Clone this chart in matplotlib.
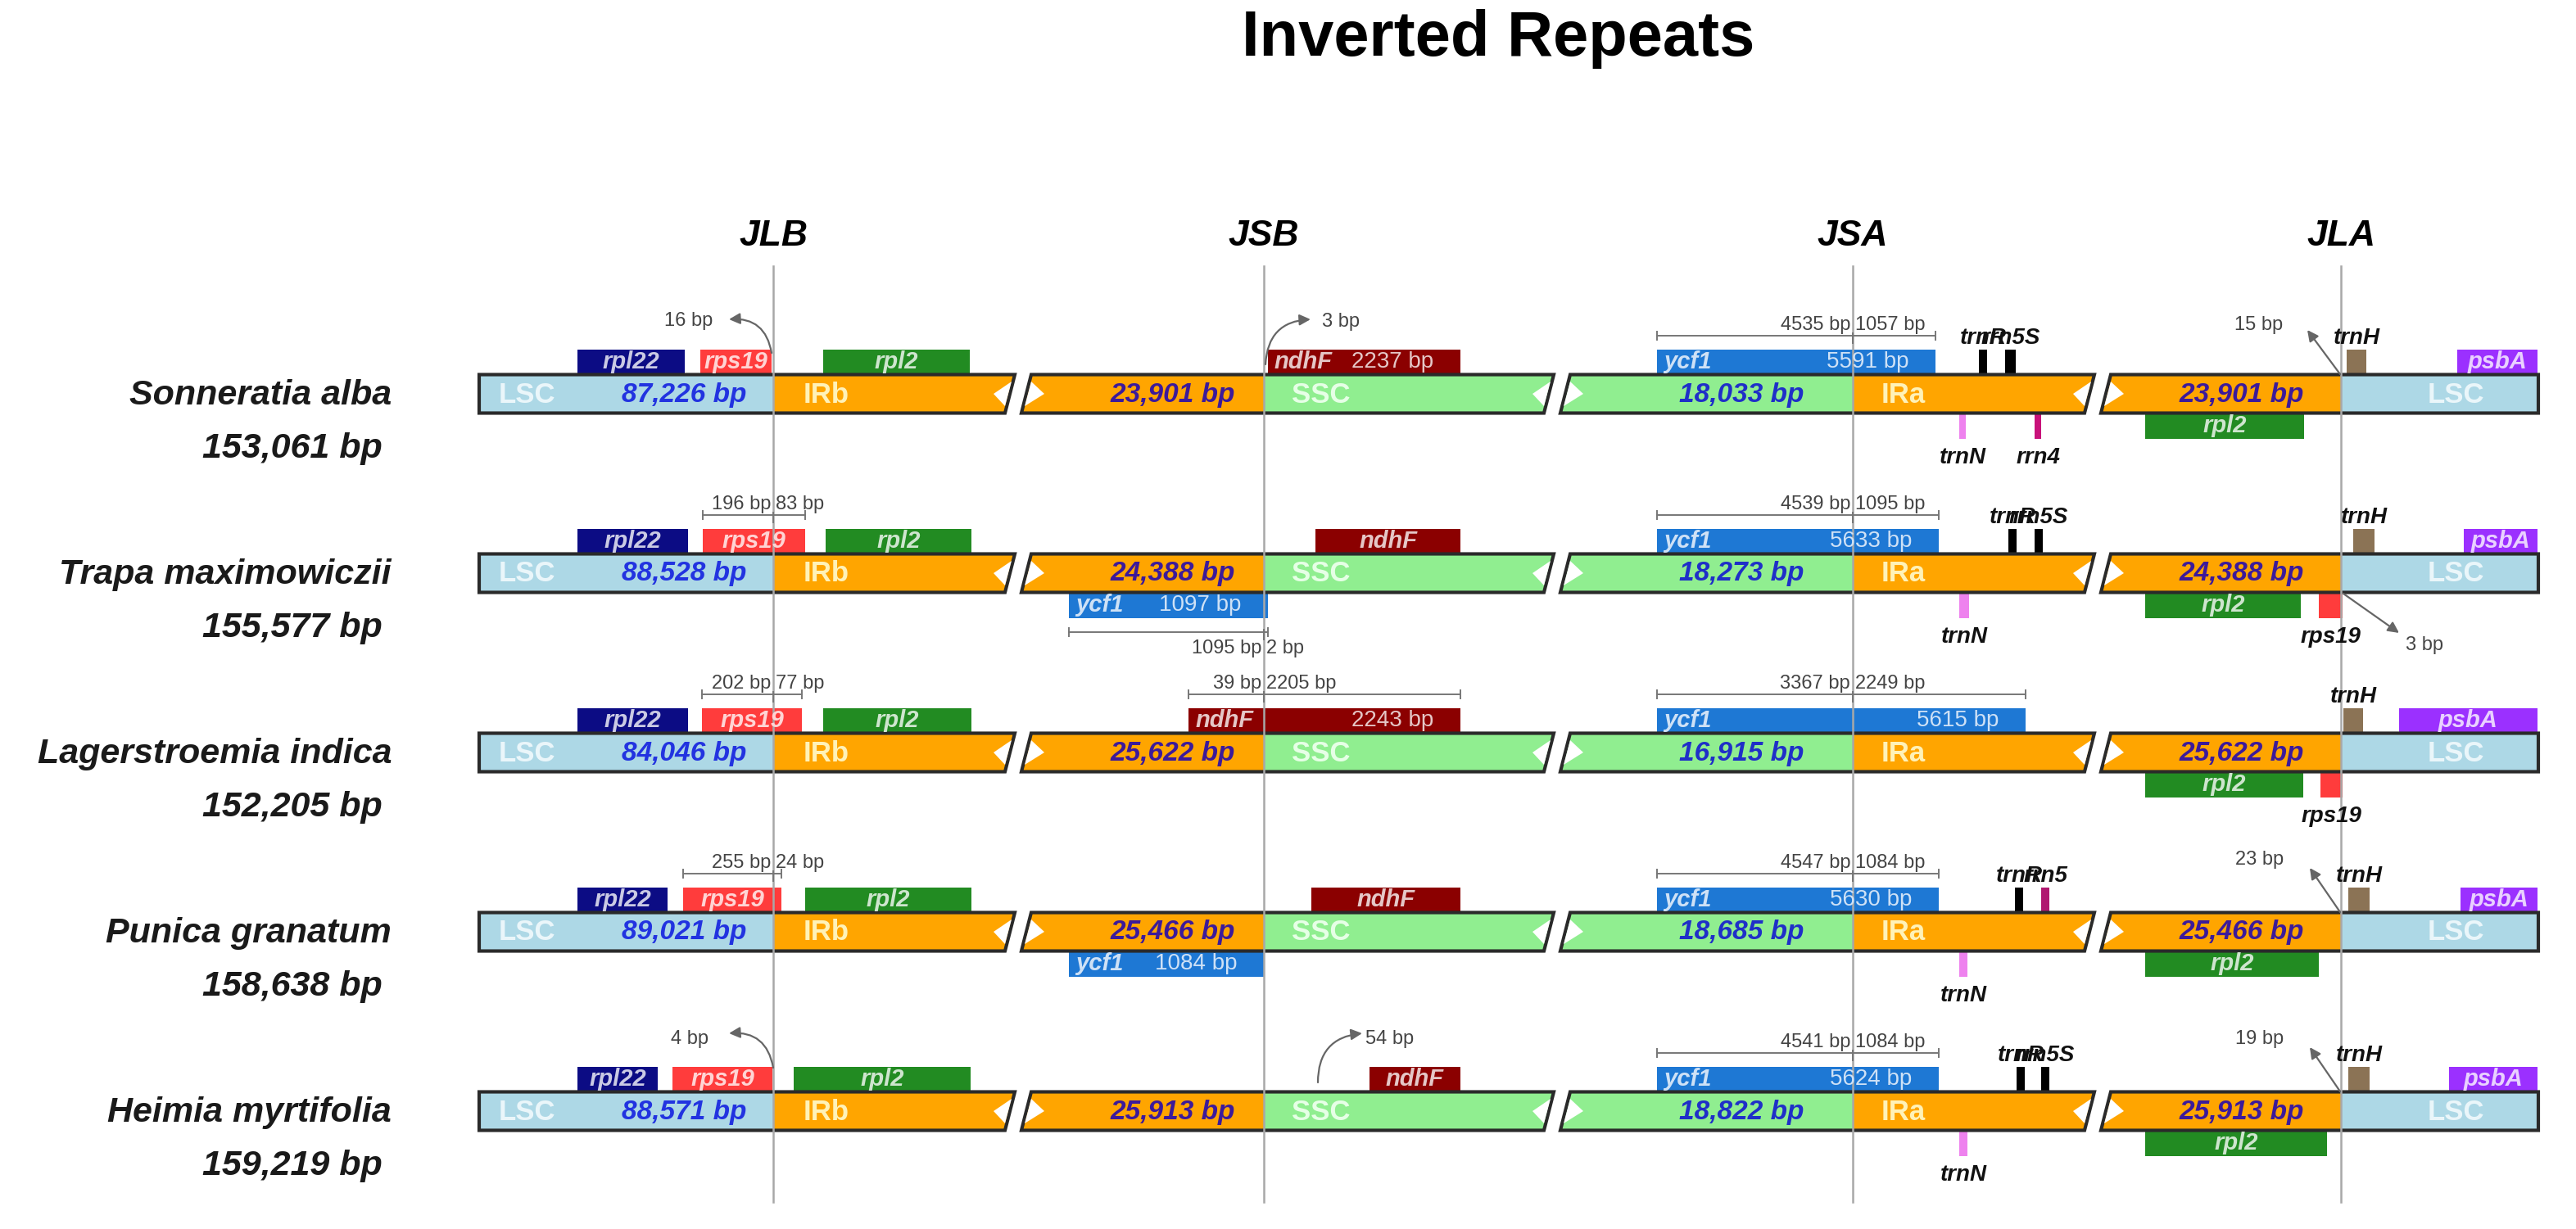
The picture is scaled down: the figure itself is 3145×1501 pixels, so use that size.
import matplotlib
matplotlib.use('Agg')
import matplotlib.pyplot as plt
from matplotlib.patches import Polygon, Rectangle, FancyArrowPatch
from matplotlib.colors import to_rgb

plt.rcParams['font.family'] = ['Liberation Sans', 'DejaVu Sans']

# ---- data ----
title = 'Inverted Repeats'
species = ['Sonneratia alba', 'Trapa maximowiczii', 'Lagerstroemia indica',
           'Punica granatum', 'Heimia myrtifolia']
genome_bp = ['153,061 bp', '155,577 bp', '152,205 bp', '158,638 bp', '159,219 bp']
lsc_bp = ['87,226 bp', '88,528 bp', '84,046 bp', '89,021 bp', '88,571 bp']
ir_bp = ['23,901 bp', '24,388 bp', '25,622 bp', '25,466 bp', '25,913 bp']
ssc_bp = ['18,033 bp', '18,273 bp', '16,915 bp', '18,685 bp', '18,822 bp']
junctions = ['JLB', 'JSB', 'JSA', 'JLA']

# genes per genome: name, junction, start, end (drawn offset from the junction), side, size text
genes = [
    [('rpl22', 'JLB', -239, -108, 'up', ''), ('rps19', 'JLB', -89, -2, 'up', ''),
     ('rpl2', 'JLB', 61, 240, 'up', ''), ('ndhF', 'JSB', 5, 240, 'up', '2237 bp'),
     ('ycf1', 'JSA', -239, 101, 'up', '5591 bp'), ('trnR', 'JSA', 154, 164, 'up', ''),
     ('rrn5S', 'JSA', 186, 199, 'up', ''), ('trnN', 'JSA', 130, 138, 'down', ''),
     ('rrn4', 'JSA', 222, 230, 'down', ''), ('rpl2', 'JLA', -239, -45, 'down', ''),
     ('trnH', 'JLA', 7, 31, 'up', ''), ('psbA', 'JLA', 142, 240, 'up', '')],
    [('rpl22', 'JLB', -239, -104, 'up', ''), ('rps19', 'JLB', -86, 39, 'up', ''),
     ('rpl2', 'JLB', 64, 242, 'up', ''), ('ndhF', 'JSB', 63, 240, 'up', ''),
     ('ycf1', 'JSB', -238, 5, 'down', '1097 bp'), ('ycf1', 'JSA', -239, 105, 'up', '5633 bp'),
     ('trnR', 'JSA', 190, 200, 'up', ''), ('rrn5S', 'JSA', 222, 232, 'up', ''),
     ('trnN', 'JSA', 130, 142, 'down', ''), ('rpl2', 'JLA', -239, -49, 'down', ''),
     ('rps19', 'JLA', -27, 2, 'down', ''), ('trnH', 'JLA', 15, 41, 'up', ''),
     ('psbA', 'JLA', 150, 240, 'up', '')],
    [('rpl22', 'JLB', -239, -104, 'up', ''), ('rps19', 'JLB', -87, 35, 'up', ''),
     ('rpl2', 'JLB', 61, 242, 'up', ''), ('ndhF', 'JSB', -92, 240, 'up', '2243 bp'),
     ('ycf1', 'JSA', -239, 211, 'up', '5615 bp'), ('rpl2', 'JLA', -239, -46, 'down', ''),
     ('rps19', 'JLA', -25, 2, 'down', ''), ('trnH', 'JLA', 3, 27, 'up', ''),
     ('psbA', 'JLA', 71, 240, 'up', '')],
    [('rpl22', 'JLB', -239, -129, 'up', ''), ('rps19', 'JLB', -110, 10, 'up', ''),
     ('rpl2', 'JLB', 39, 242, 'up', ''), ('ndhF', 'JSB', 58, 240, 'up', ''),
     ('ycf1', 'JSB', -238, 0, 'down', '1084 bp'), ('ycf1', 'JSA', -239, 105, 'up', '5630 bp'),
     ('trnR', 'JSA', 198, 208, 'up', ''), ('rrn5', 'JSA', 230, 240, 'up', ''),
     ('trnN', 'JSA', 130, 140, 'down', ''), ('rpl2', 'JLA', -239, -27, 'down', ''),
     ('trnH', 'JLA', 9, 35, 'up', ''), ('psbA', 'JLA', 146, 240, 'up', '')],
    [('rpl22', 'JLB', -239, -141, 'up', ''), ('rps19', 'JLB', -123, -1, 'up', ''),
     ('rpl2', 'JLB', 25, 241, 'up', ''), ('ndhF', 'JSB', 129, 240, 'up', ''),
     ('ycf1', 'JSA', -239, 105, 'up', '5624 bp'), ('trnR', 'JSA', 200, 210, 'up', ''),
     ('rrn5S', 'JSA', 230, 240, 'up', ''), ('trnN', 'JSA', 130, 140, 'down', ''),
     ('rpl2', 'JLA', -239, -17, 'down', ''), ('trnH', 'JLA', 9, 35, 'up', ''),
     ('psbA', 'JLA', 132, 240, 'up', '')],
]

# distance rulers: genome, junction, start, end, side, left text, right text
rulers = [
    (0, 'JSA', -239, 101, 'up', '4535 bp', '1057 bp'),
    (1, 'JLB', -86, 39, 'up', '196 bp', '83 bp'),
    (1, 'JSB', -238, 5, 'down', '1095 bp', '2 bp'),
    (1, 'JSA', -239, 105, 'up', '4539 bp', '1095 bp'),
    (2, 'JLB', -87, 35, 'up', '202 bp', '77 bp'),
    (2, 'JSB', -92, 240, 'up', '39 bp', '2205 bp'),
    (2, 'JSA', -239, 211, 'up', '3367 bp', '2249 bp'),
    (3, 'JLB', -110, 10, 'up', '255 bp', '24 bp'),
    (3, 'JSA', -239, 105, 'up', '4547 bp', '1084 bp'),
    (4, 'JSA', -239, 105, 'up', '4541 bp', '1084 bp'),
]

# gap arrows: genome, junction, tail, head, bend, text, text offset from head
gap_arrows = [
    (0, 'JLB', (-2, -50), (-54, -91), 0.45, '16 bp', (-20, 2), 'right'),
    (0, 'JSB', (2, -36), (57, -91), -0.45, '3 bp', (14, 3), 'left'),
    (0, 'JLA', (-1, -24), (-41, -78), 0.0, '15 bp', (-30, -6), 'right'),
    (1, 'JLA', (3, 25), (71, 73), 0.0, '3 bp', (8, 15), 'left'),
    (3, 'JLA', (-1, -24), (-38, -78), 0.0, '23 bp', (-32, -10), 'right'),
    (4, 'JLB', (0, -53), (-54, -95), 0.45, '4 bp', (-25, 7), 'right'),
    (4, 'JSB', (66, -35), (120, -95), -0.45, '54 bp', (4, 7), 'left'),
    (4, 'JLA', (-1, -24), (-38, -78), 0.0, '19 bp', (-32, -10), 'right'),
]

gene_colors = {'rpl22': '#0c0c84', 'rps19': '#ff3c3c', 'rpl2': '#228b22',
               'ndhF': '#8b0000', 'ycf1': '#1e78d4', 'trnR': '#000000',
               'rrn5S': '#000000', 'rrn5': '#b01870', 'rrn4': '#c8127a',
               'trnN': '#ee82ee', 'trnH': '#8b7355', 'psbA': '#9b30ff'}
region_colors = {'LSC': '#add8e6', 'IR': '#ffa500', 'SSC': '#90ee90'}
region_text = {'LSC': '#eaf6fa', 'IRb': '#fff2b8', 'IRa': '#fff2b8', 'SSC': '#e6ffe6'}

# ---- layout ----
W, H = 3145, 1501
jx = dict(zip(junctions, [944, 1543, 2262, 2858]))
row_y = [481 + 219 * i for i in range(len(species))]
bar_h, gene_h = 47, 31
edges = [585, 1243, 1901, 2561, 3099]
seg_regions = [[(None, 'JLB', 'LSC'), ('JLB', None, 'IR')],
               [(None, 'JSB', 'IR'), ('JSB', None, 'SSC')],
               [(None, 'JSA', 'SSC'), ('JSA', None, 'IR')],
               [(None, 'JLA', 'IR'), ('JLA', None, 'LSC')]]


def tint(c, f=0.78):
    r, g, b = to_rgb(c)
    return (r + (1 - r) * f, g + (1 - g) * f, b + (1 - b) * f)


fig = plt.figure(figsize=(W / 100, H / 100), dpi=100)
ax = fig.add_axes([0, 0, 1, 1])
ax.set_xlim(0, W)
ax.set_ylim(H, 0)
ax.axis('off')

ax.text(1829, 48, title, ha='center', va='center', fontsize=56, fontweight='bold')
for j in junctions:
    ax.text(jx[j], 288, j, ha='center', va='center', fontsize=32,
            fontweight='bold', fontstyle='italic')
    ax.plot([jx[j], jx[j]], [325, 1468], color='#a8a8a8', lw=1.8, zorder=5)

for r, y in enumerate(row_y):
    top, bot = y - bar_h / 2, y + bar_h / 2
    ax.text(478, y + 2, species[r], ha='right', va='center', fontsize=31,
            fontweight='bold', fontstyle='italic', color='#1a1a1a')
    ax.text(467, y + 67, genome_bp[r], ha='right', va='center', fontsize=31,
            fontweight='bold', fontstyle='italic', color='#1a1a1a')

    for i in range(4):
        L, R = edges[i], edges[i + 1]
        lt, lb = (L, L) if i == 0 else (L + 16, L + 4)
        rt, rb = (R, R) if i == 3 else (R - 4, R - 16)
        shape = Polygon([(lt, top), (rt, top), (rb, bot), (lb, bot)], closed=True,
                        fill=False, edgecolor='#2a2a2a', lw=3, zorder=3)
        ax.add_patch(shape)
        for a, b, reg in seg_regions[i]:
            xa = L - 20 if a is None else jx[a]
            xb = R + 20 if b is None else jx[b]
            rect = Rectangle((xa, top), xb - xa, bar_h, color=region_colors[reg], lw=0, zorder=2)
            ax.add_patch(rect)
            rect.set_clip_path(shape)
        if i > 0:
            ax.add_patch(Polygon([(L + 16, y - 15), (L + 8, y + 15), (L + 32, y)],
                                 color='white', lw=0, zorder=4))
        if i < 3:
            ax.add_patch(Polygon([(R - 8, y - 15), (R - 16, y + 15), (R - 30, y)],
                                 color='white', lw=0, zorder=4))

    rk = dict(fontsize=25, fontweight='bold', va='center', zorder=6)
    ax.text(edges[0] + 24, y + 1, 'LSC', ha='left', color=region_text['LSC'], **rk)
    ax.text(jx['JLB'] + 37, y + 1, 'IRb', ha='left', color=region_text['IRb'], **rk)
    ax.text(jx['JSB'] + 34, y + 1, 'SSC', ha='left', color=region_text['SSC'], **rk)
    ax.text(jx['JSA'] + 35, y + 1, 'IRa', ha='left', color=region_text['IRa'], **rk)
    ax.text(jx['JLA'] + 106, y + 1, 'LSC', ha='left', color=region_text['LSC'], **rk)

    lk = dict(fontsize=24, fontweight='bold', fontstyle='italic', va='center', ha='right', zorder=6)
    ax.text(jx['JLB'] - 33, y + 1, lsc_bp[r], color='#2233e0', **lk)
    ax.text(jx['JSB'] - 35, y + 1, ir_bp[r], color='#3c1a9a', **lk)
    ax.text(jx['JSA'] - 60, y + 1, ssc_bp[r], color='#1f2fc8', **lk)
    ax.text(jx['JLA'] - 45, y + 1, ir_bp[r], color='#3c1a9a', **lk)

    for name, j, s, e, side, size in genes[r]:
        x0, x1 = jx[j] + s, jx[j] + e
        gy = top - gene_h if side == 'up' else bot
        col = gene_colors[name]
        ax.add_patch(Rectangle((x0, gy), x1 - x0, gene_h, color=col, lw=0, zorder=2))
        cy = gy + gene_h / 2
        if x1 - x0 < 45:
            ty = y - 68 if side == 'up' else y + 78
            ax.text((x0 + x1) / 2, ty, name, ha='center', va='center', fontsize=20,
                    fontweight='bold', fontstyle='italic', color='#111111', zorder=6)
        elif size:
            ax.text(x0 + 8, cy, name, ha='left', va='center', fontsize=21,
                    fontweight='bold', fontstyle='italic', color=tint(col), zorder=6)
            ax.text(x1 - 33, cy, size, ha='right', va='center', fontsize=20,
                    color=tint(col), zorder=6)
        else:
            ax.text((x0 + x1) / 2, cy, name, ha='center', va='center', fontsize=21,
                    fontweight='bold', fontstyle='italic', color=tint(col), zorder=6)

for r, j, s, e, side, lt_, rt_ in rulers:
    y = row_y[r]
    ly = y - 71 if side == 'up' else y + 72
    ty = y - 84 if side == 'up' else y + 92
    x0, x1, xj = jx[j] + s, jx[j] + e, jx[j]
    ax.plot([x0, x1], [ly, ly], color='#777777', lw=1.4, zorder=6)
    for xx in (x0, x1):
        ax.plot([xx, xx], [ly - 5, ly + 5], color='#777777', lw=1.4, zorder=6)
    ax.plot([xj, xj], [ly - 3, ly + 9], color='#777777', lw=1.4, zorder=6)
    ax.text(xj - 3, ty, lt_, ha='right', va='center', fontsize=17, color='#444444', zorder=6)
    ax.text(xj + 3, ty, rt_, ha='left', va='center', fontsize=17, color='#444444', zorder=6)

for r, j, tail, head, bend, label, off, ha in gap_arrows:
    y = row_y[r]
    pa = (jx[j] + tail[0], y + tail[1])
    pb = (jx[j] + head[0], y + head[1])
    ax.add_patch(FancyArrowPatch(pa, pb, connectionstyle=f'arc3,rad={bend}',
                                 arrowstyle='-|>,head_length=0.5,head_width=0.25',
                                 mutation_scale=16, color='#666666', lw=1.6,
                                 shrinkA=0, shrinkB=0, zorder=6))
    ax.text(pb[0] + off[0], pb[1] + off[1], label, ha=ha, va='center',
            fontsize=17, color='#444444', zorder=6)

fig.savefig('out.png', dpi=100)
